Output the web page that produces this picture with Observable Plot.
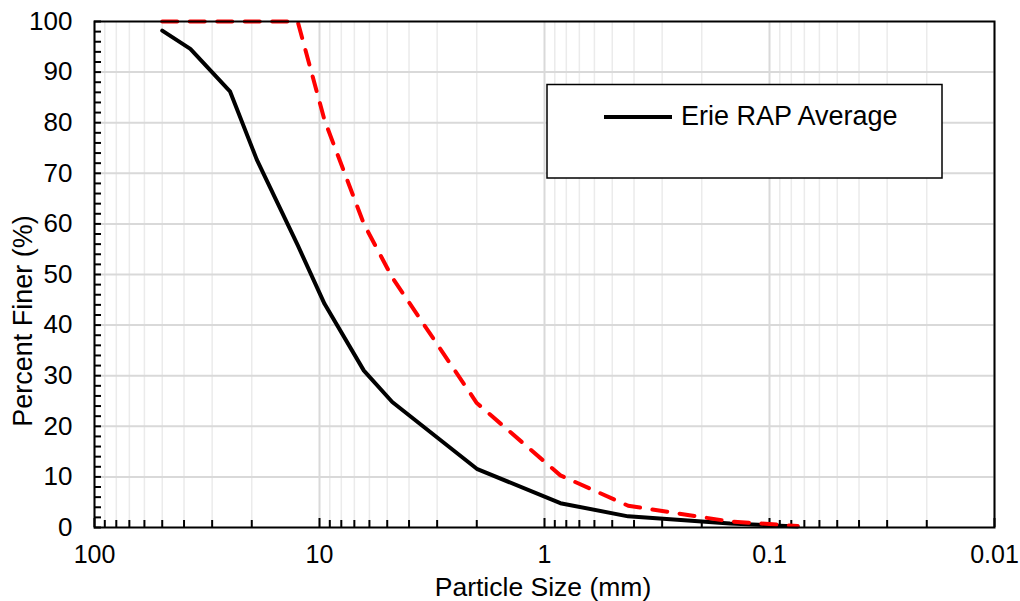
<!DOCTYPE html>
<html>
<head>
<meta charset="utf-8">
<script src="https://cdn.jsdelivr.net/npm/d3@7"></script>
<script src="https://cdn.jsdelivr.net/npm/@observablehq/plot@0.6"></script>
<style>
  html, body { margin: 0; padding: 0; background: #fff; }
  #chart svg { display: block; }
</style>
</head>
<body>
<div id="chart"></div>
<script>
// Sieve sizes (mm)
const sizes = [50, 37.5, 25, 19, 12.5, 9.5, 6.35, 4.75, 2.0, 0.85, 0.425, 0.15, 0.075];
// Erie RAP Average, percent finer
const erieAverage = [98.2, 94.6, 86.2, 72.7, 55.8, 44.2, 31.0, 24.8, 11.6, 4.8, 2.2, 0.8, 0.2];
// Red dashed band limit, percent finer
const redLimit = [100, 100, 100, 100, 100, 80.5, 60, 49.4, 24.6, 10.3, 4.3, 1.2, 0.3];

// Tick definitions
const xDecades = [100, 10, 1, 0.1, 0.01];
const xDecadeLabels = ["100", "10", "1", "0.1", "0.01"];
const xMinorMultipliers = [2, 3, 4, 5, 6, 7, 8, 9];
const yMajorTicks = [0, 10, 20, 30, 40, 50, 60, 70, 80, 90, 100];
const yMinorTicks = [2, 4, 6, 8, 12, 14, 16, 18, 22, 24, 26, 28, 32, 34, 36, 38, 42, 44, 46, 48,
                     52, 54, 56, 58, 62, 64, 66, 68, 72, 74, 76, 78, 82, 84, 86, 88, 92, 94, 96, 98];
const legendLabel = "Erie RAP Average";
const xTitle = "Particle Size (mm)";
const yTitle = "Percent Finer (%)";

const xMinorTicks = xDecades.slice(1).flatMap(d => xMinorMultipliers.map(m => d * m));
const rows = sizes.map((s, i) => ({size: s, avg: erieAverage[i], limit: redLimit[i]}));
const labelOf = v => xDecadeLabels[xDecades.findIndex(d => Math.abs(d - v) / d < 1e-6)] ?? String(v);

const font = "'Liberation Sans', Arial, sans-serif";

const chart = Plot.plot({
  width: 1020,
  height: 601,
  marginLeft: 94,
  marginRight: 26,
  marginTop: 21,
  marginBottom: 74,
  style: {fontFamily: font, fontSize: "25px", color: "black", background: "white", overflow: "visible"},
  x: {type: "log", domain: [100, 0.01]},
  y: {domain: [0, 100]},
  marks: [
    Plot.gridX(xMinorTicks, {stroke: "#ebebeb", strokeOpacity: 1, strokeWidth: 1.5}),
    Plot.gridX(xDecades, {stroke: "#d9d9d9", strokeOpacity: 1, strokeWidth: 2}),
    Plot.gridY(yMajorTicks.slice(1, -1), {stroke: "#d9d9d9", strokeOpacity: 1, strokeWidth: 2}),
    Plot.axisY(yMinorTicks.concat(yMajorTicks), {tickSize: -7, text: null, strokeWidth: 2, label: null}),
    Plot.axisY(yMajorTicks, {tickSize: 0, tickPadding: 22, fontSize: 26, label: null}),
    Plot.axisX(xMinorTicks, {tickSize: -7, text: null, strokeWidth: 2, label: null}),
    Plot.axisX(xDecades, {tickSize: -9, text: null, strokeWidth: 2, label: null}),
    Plot.axisX(xDecades, {tickSize: 0, tickPadding: 18, fontSize: 25, tickFormat: labelOf, label: null}),
    Plot.line(rows, {x: "size", y: "avg", stroke: "black", strokeWidth: 4, strokeLinejoin: "round"}),
    Plot.line(rows, {x: "size", y: "limit", stroke: "#ff0000", strokeWidth: 4, strokeDasharray: "15,12.5"}),
    Plot.frame({stroke: "black", strokeWidth: 2})
  ]
});

document.getElementById("chart").appendChild(chart);

// Axis titles and legend (layout annotations)
const svg = d3.select(chart);
svg.append("text")
  .attr("x", 543).attr("y", 596)
  .attr("text-anchor", "middle")
  .style("font-family", font).style("font-size", "26.5px").attr("fill", "black")
  .text(xTitle);
svg.append("text")
  .attr("transform", "translate(32,321) rotate(-90)")
  .attr("text-anchor", "middle")
  .style("font-family", font).style("font-size", "27px").attr("fill", "black")
  .text(yTitle);

const lg = svg.append("g");
lg.append("rect").attr("x", 547).attr("y", 84.5).attr("width", 395).attr("height", 93.5)
  .attr("fill", "white").attr("stroke", "black").attr("stroke-width", 1.5);
lg.append("line").attr("x1", 604).attr("x2", 672).attr("y1", 117).attr("y2", 117)
  .attr("stroke", "black").attr("stroke-width", 4);
lg.append("text").attr("x", 681).attr("y", 125)
  .attr("text-anchor", "start")
  .style("font-family", font).style("font-size", "27px").attr("fill", "black")
  .text(legendLabel);
</script>
</body>
</html>
